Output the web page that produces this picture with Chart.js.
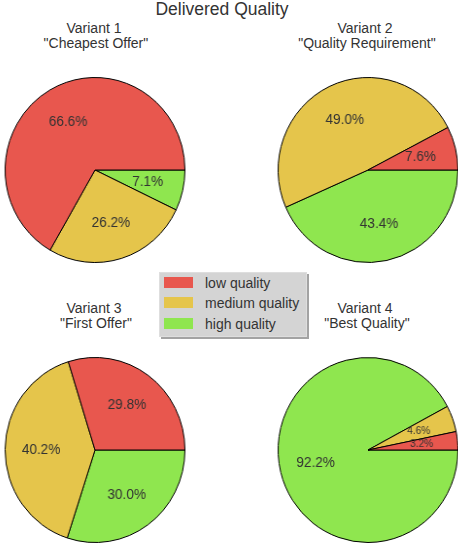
<!DOCTYPE html>
<html>
<head>
<meta charset="utf-8">
<script src="https://cdn.jsdelivr.net/npm/chart.js@4"></script>
<style>
  body { margin: 0; background: #fff; font-family: "Liberation Sans", Arial, sans-serif; color: #333; }
  #page { position: relative; width: 458px; height: 543px; overflow: hidden; }
  .title { position: absolute; left: 0; width: 444px; top: 1px; text-align: center; font-size: 17.5px; line-height: 17px; }
  .sub { position: absolute; width: 200px; text-align: center; font-size: 14px; line-height: 15px; white-space: pre; }
  .pie { position: absolute; width: 200px; height: 200px; transform: scaleX(0.972); }
  #legend { position: absolute; left: 159px; top: 272px; width: 146px; height: 63px; background: #d4d4d4;
            border: 1px solid #dedede; box-shadow: 2px 2px 0 #a3a3a3; font-size: 14px; }
  .item { position: absolute; left: 4px; height: 20px; line-height: 20px; }
  .item span.box { position: absolute; left: 0; top: 4px; width: 29px; height: 11px; }
  .item span.txt { position: absolute; left: 41px; white-space: nowrap; }
</style>
</head>
<body>
<div id="page">
  <div class="title">Delivered Quality</div>
  <div id="legend"></div>
</div>
<script>
// categories and values (percent) per variant
const categories = ['low quality', 'medium quality', 'high quality'];
const colors = ['#e8574e', '#e5c54b', '#8fe64f'];
const variantTitles = [
  'Variant 1\n "Cheapest Offer"',
  'Variant 2\n "Quality Requirement"',
  'Variant 3\n "First Offer"',
  'Variant 4\n "Best Quality"'
];
const variant1 = [66.6, 26.2, 7.1];
const variant2 = [7.6, 49.0, 43.4];
const variant3 = [29.8, 40.2, 30.0];
const variant4 = [3.2, 4.6, 92.2];
const variants = [variant1, variant2, variant3, variant4];

// pie centres in the page
const centres = [[95, 169.5], [368, 169.5], [95, 449.5], [368, 449.5]];
const titleTops = [21, 21, 301, 301];
const titleX = [94, 365, 94, 365];

// percent labels at 0.6 of the radius
const pctLabels = {
  id: 'pctLabels',
  afterDatasetsDraw(chart) {
    const ctx = chart.ctx;
    const meta = chart.getDatasetMeta(0);
    const values = chart.data.datasets[0].data;
    ctx.save();
    ctx.fillStyle = '#333';
    ctx.textAlign = 'center';
    ctx.textBaseline = 'middle';
    meta.data.forEach((arc, i) => {
      const p = arc.getProps(['x', 'y', 'startAngle', 'endAngle', 'outerRadius'], true);
      const mid = (p.startAngle + p.endAngle) / 2;
      const r = p.outerRadius * 0.6;
      ctx.font = (values[i] < 5 ? 10.5 : 14) + 'px "Liberation Sans", Arial, sans-serif';
      ctx.fillText(values[i].toFixed(1) + '%', p.x + Math.cos(mid) * r, p.y + Math.sin(mid) * r);
    });
    ctx.restore();
  }
};

const page = document.getElementById('page');

variants.forEach((vals, k) => {
  const t = document.createElement('div');
  t.className = 'sub';
  t.style.left = (titleX[k] - 100) + 'px';
  t.style.top = titleTops[k] + 'px';
  t.textContent = variantTitles[k];
  page.appendChild(t);

  const wrap = document.createElement('div');
  wrap.className = 'pie';
  wrap.style.left = (centres[k][0] - 100) + 'px';
  wrap.style.top = (centres[k][1] - 100) + 'px';
  const cv = document.createElement('canvas');
  cv.width = 200;
  cv.height = 200;
  wrap.appendChild(cv);
  page.appendChild(wrap);

  // chart.js draws clockwise, matplotlib counter-clockwise from 3 o'clock:
  // reverse the order and start at 3 o'clock
  new Chart(cv.getContext('2d'), {
    type: 'pie',
    data: {
      labels: categories.slice().reverse(),
      datasets: [{
        data: vals.slice().reverse(),
        backgroundColor: colors.slice().reverse(),
        borderColor: '#000',
        borderWidth: 1
      }]
    },
    options: {
      responsive: false,
      animation: false,
      rotation: 90,
      layout: { padding: 7 },
      plugins: { legend: { display: false }, tooltip: { enabled: false } }
    },
    plugins: [pctLabels]
  });
});

// legend
const legend = document.getElementById('legend');
categories.forEach((c, i) => {
  const it = document.createElement('div');
  it.className = 'item';
  it.style.top = (i * 20.3) + 'px';
  it.innerHTML = '<span class="box"></span><span class="txt"></span>';
  it.querySelector('.box').style.background = colors[i];
  it.querySelector('.txt').textContent = c;
  legend.appendChild(it);
});
</script>
</body>
</html>
